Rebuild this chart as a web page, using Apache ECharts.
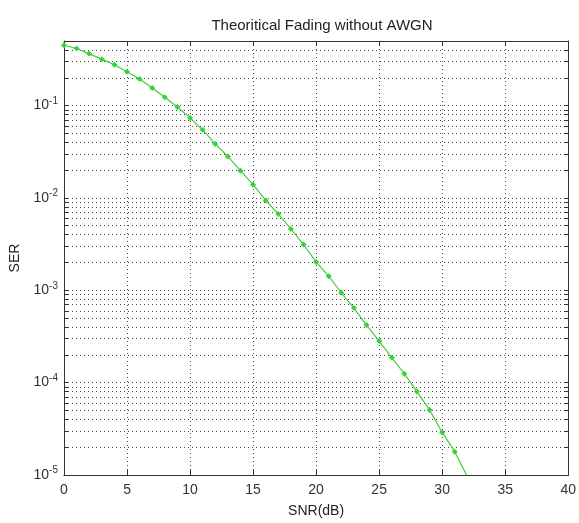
<!DOCTYPE html>
<html>
<head>
<meta charset="utf-8">
<script src="https://cdn.jsdelivr.net/npm/echarts@6/dist/echarts.min.js"></script>
<style>
html,body{margin:0;padding:0;background:#fff;}
#main{width:579px;height:523px;}
</style>
</head>
<body>
<div id="main"></div>
<script>
// SNR in dB (x) and symbol error rate (y, log scale)
var snr = [0,1,2,3,4,5,6,7,8,9,10,11,12,13,14,15,16,17,18,19,20,21,22,23,24,25,26,27,28,29,30,31,32];
var ser = [0.45,0.415,0.363,0.318,0.277,0.232,0.194,0.155,0.123,0.0966,0.0735,0.0546,0.0384,0.0281,0.0197,0.0139,
           0.0094,0.0067,0.00461,0.00313,0.00203,0.00142,0.00094,0.000641,0.00042,0.000282,0.000187,0.000125,
           8.0e-5,5.07e-5,2.89e-5,1.79e-5,9.6e-6];

var xTicks = [0,5,10,15,20,25,30,35,40];
// decades carry labels, the rest are MATLAB style minor grid lines
var yDecades = [1e-5,1e-4,1e-3,1e-2,1e-1];
var yExpLabels = ['-5','-4','-3','-2','-1'];
var yGridValues = [1e-5,2e-5,3e-5,4e-5,5e-5,6e-5,7e-5,8e-5,9e-5,
                   1e-4,2e-4,3e-4,4e-4,5e-4,6e-4,7e-4,8e-4,9e-4,
                   1e-3,2e-3,3e-3,4e-3,5e-3,6e-3,7e-3,8e-3,9e-3,
                   1e-2,2e-2,3e-2,4e-2,5e-2,6e-2,7e-2,8e-2,9e-2,
                   0.1,0.2,0.3,0.4,0.5];

var font = 'Liberation Sans';
var dotted = {color:'#444', width:1, type:[1,3]};

var myChart = echarts.init(document.getElementById('main'));

var option = {
    backgroundColor:'#fff',
    animation:false,
    title:{
        text:'Theoritical Fading without AWGN',
        left:317, top:13, textAlign:'center',
        textStyle:{fontFamily:font, fontSize:15, fontWeight:'normal', color:'#222'}
    },
    grid:{left:63, right:8, top:41, bottom:47, containLabel:false},
    xAxis:[
        {
            type:'value', min:xTicks[0], max:xTicks[xTicks.length-1], interval:5, position:'bottom',
            name:'SNR(dB)', nameLocation:'middle', nameGap:29,
            nameTextStyle:{fontFamily:font, fontSize:14, color:'#222'},
            axisLine:{onZero:false, lineStyle:{color:'#333', width:1}},
            axisTick:{inside:true, length:5, lineStyle:{color:'#333'}},
            axisLabel:{fontFamily:font, fontSize:14, color:'#333', margin:8},
            splitLine:{show:true, lineStyle:dotted}
        },
        {
            type:'value', min:xTicks[0], max:xTicks[xTicks.length-1], interval:5, position:'top',
            axisLine:{onZero:false, lineStyle:{color:'#333', width:1}},
            axisTick:{inside:true, length:5, lineStyle:{color:'#333'}},
            axisLabel:{show:false},
            splitLine:{show:false}
        }
    ],
    yAxis:[
        {
            type:'log', logBase:10, min:1e-5, max:0.5, position:'left',
            name:'SER', nameLocation:'middle', nameGap:42, nameRotate:90,
            nameTextStyle:{fontFamily:font, fontSize:14, color:'#222'},
            axisLine:{onZero:false, lineStyle:{color:'#333', width:1}},
            axisTick:{inside:true, length:4, customValues:yGridValues, lineStyle:{color:'#333'}},
            axisLabel:{
                customValues:yDecades, margin:6,
                formatter:function(v){
                    var i = yDecades.indexOf(v);
                    var e = i >= 0 ? yExpLabels[i] : Math.round(Math.log10(v));
                    return '{b|10}{s|' + e + '}';
                },
                rich:{
                    b:{fontFamily:font, fontSize:14, color:'#333'},
                    s:{fontFamily:font, fontSize:10, color:'#333', padding:[0,0,9,0]}
                }
            },
            splitLine:{show:true, lineStyle:dotted}
        },
        {
            type:'log', logBase:10, min:1e-5, max:0.5, position:'right',
            axisLine:{onZero:false, lineStyle:{color:'#333', width:1}},
            axisTick:{inside:true, length:4, customValues:yGridValues, lineStyle:{color:'#333'}},
            axisLabel:{show:false},
            splitLine:{show:false}
        }
    ],
    series:[
        {
            name:'SER', type:'line', xAxisIndex:0, yAxisIndex:0,
            data:snr.map(function(s,i){ return [s, ser[i]]; }),
            clip:true,
            symbol:'diamond', symbolSize:6,
            itemStyle:{color:'#33d633'},
            lineStyle:{color:'#44cc44', width:1.2}
        }
    ]
};

myChart.setOption(option);
</script>
</body>
</html>
